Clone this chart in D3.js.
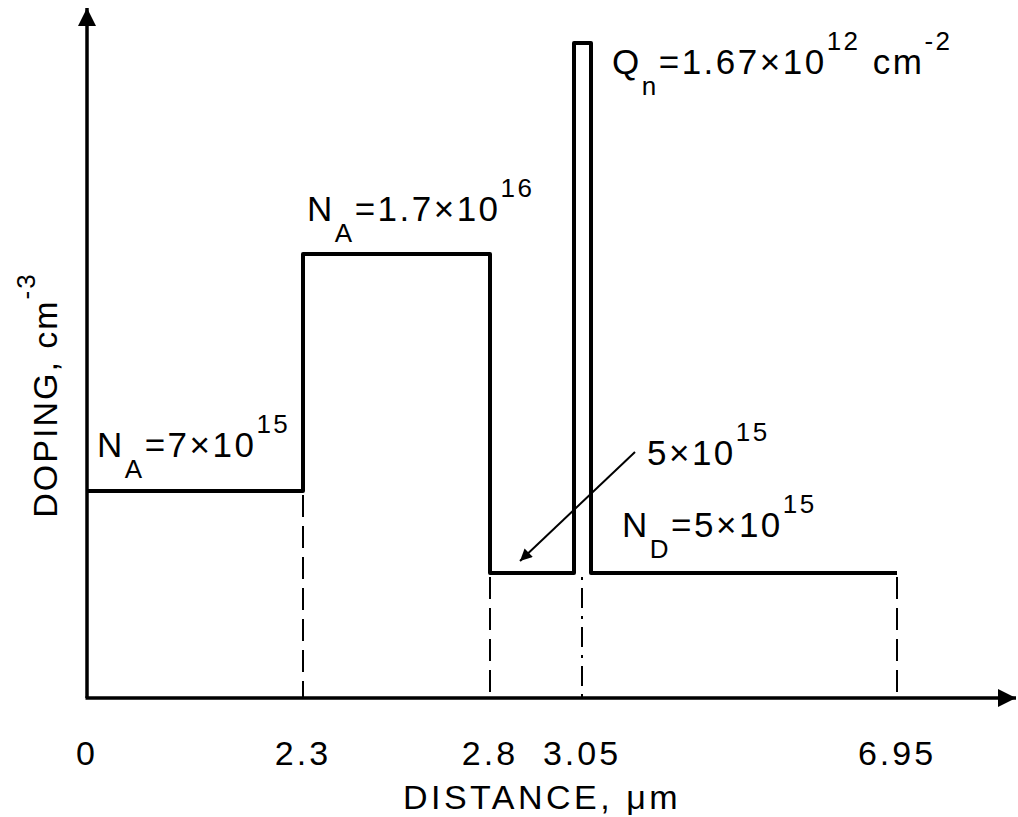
<!DOCTYPE html>
<html>
<head>
<meta charset="utf-8">
<script src="https://cdn.jsdelivr.net/npm/d3@7"></script>
<style>
  body { margin: 0; background: #fff; }
  text { font-family: "Liberation Sans", Arial, sans-serif; fill: #000; }
</style>
</head>
<body>
<script>
// distances (um) where the doping changes, shown on the x axis
var xTicks = [0, 2.3, 2.8, 3.05, 6.95];
var xTickLabels = ["0", "2.3", "2.8", "3.05", "6.95"];
// doping levels (cm^-3), one per region
var regionStart = [0, 2.3, 2.8, 3.05];
var regionEnd = [2.3, 2.8, 3.05, 6.95];
var regionDoping = [7e15, 1.7e16, 5e15, 5e15];
// delta-doped sheet at 3.05 um
var sheetAt = 3.05;
var sheetLabel = "1.67×10";
var sheetExp = "12";

var W = 1018, H = 817;
var svg = d3.select("body").append("svg")
	.attr("width", W)
	.attr("height", H);

// the drawing is not to scale, so both scales are piecewise
var x = d3.scaleLinear()
	.domain(xTicks)
	.range([87, 303, 490, 582, 897]);
var y = d3.scaleLinear()
	.domain([0, 5e15, 7e15, 1.7e16])
	.range([698, 573, 491, 254]);

var x0 = x(0), y0 = y(0);
var axisTop = 8, axisRight = 1016;
var spikeTop = 43, spikeL = 8, spikeR = 9;

// arrow marker
var defs = svg.append("defs");
defs.append("marker")
	.attr("id", "head")
	.attr("viewBox", "0 0 10 10")
	.attr("refX", 10).attr("refY", 5)
	.attr("markerWidth", 19).attr("markerHeight", 18)
	.attr("markerUnits", "userSpaceOnUse")
	.attr("orient", "auto")
	.append("path")
	.attr("d", "M0,0 L10,5 L0,10 Z")
	.attr("fill", "#000");
defs.append("marker")
	.attr("id", "pointer")
	.attr("viewBox", "0 0 10 10")
	.attr("refX", 10).attr("refY", 5)
	.attr("markerWidth", 20).attr("markerHeight", 12)
	.attr("markerUnits", "userSpaceOnUse")
	.attr("orient", "auto")
	.append("path")
	.attr("d", "M0,0 L10,5 L0,10 Z")
	.attr("fill", "#000");

// axes
svg.append("line")
	.attr("x1", x0).attr("y1", y0)
	.attr("x2", x0).attr("y2", axisTop)
	.attr("stroke", "#000").attr("stroke-width", 3.5)
	.attr("marker-end", "url(#head)");
svg.append("line")
	.attr("x1", x0 - 1.5).attr("y1", y0)
	.attr("x2", axisRight).attr("y2", y0)
	.attr("stroke", "#000").attr("stroke-width", 3.5)
	.attr("marker-end", "url(#head)");

// dashed guides from each step down to the axis
var guides = xTicks.slice(1).map(function(v) {
	var i = regionEnd.indexOf(v);
	var next = regionDoping[i + 1] === undefined ? regionDoping[i] : regionDoping[i + 1];
	return { x: v, top: d3.min([regionDoping[i], next]) };
});
svg.selectAll("line.guide")
	.data(guides)
	.enter()
	.append("line")
	.attr("class", "guide")
	.attr("x1", function(d) { return x(d.x); })
	.attr("x2", function(d) { return x(d.x); })
	.attr("y1", function(d) { return y(d.top) + 4; })
	.attr("y2", y0)
	.attr("stroke", "#000")
	.attr("stroke-width", 2)
	.attr("stroke-dasharray", function(d) { return d.x === sheetAt ? "3,8,20,8" : "22,9"; });

// doping profile as steps
var pts = [];
regionStart.forEach(function(s, i) {
	var lv = y(regionDoping[i]);
	if (s === sheetAt) {
		pts.push([x(s) - spikeL, lv]);
		pts.push([x(s) - spikeL, spikeTop]);
		pts.push([x(s) + spikeR, spikeTop]);
		pts.push([x(s) + spikeR, lv]);
	} else {
		pts.push([x(s), lv]);
	}
	pts.push([x(regionEnd[i]) - (regionEnd[i] === sheetAt ? spikeL : 0), lv]);
});
svg.append("path")
	.attr("d", d3.line()(pts))
	.attr("fill", "none")
	.attr("stroke", "#000")
	.attr("stroke-width", 4)
	.attr("stroke-linejoin", "round");

// tick labels
svg.selectAll("text.tick")
	.data(xTicks)
	.enter()
	.append("text")
	.attr("class", "tick")
	.attr("x", function(d) { return x(d); })
	.attr("y", 765)
	.attr("text-anchor", "middle")
	.attr("font-size", 34)
	.attr("letter-spacing", 3)
	.text(function(d, i) { return xTickLabels[i]; });

// axis titles
svg.append("text")
	.attr("x", 542).attr("y", 809)
	.attr("text-anchor", "middle")
	.attr("font-size", 34)
	.attr("letter-spacing", 3.5)
	.text("DISTANCE, μm");

var yt = svg.append("text")
	.attr("transform", "translate(57,395) rotate(-90)")
	.attr("text-anchor", "middle")
	.attr("font-size", 34)
	.attr("letter-spacing", 2);
yt.append("tspan").text("DOPING, cm");
yt.append("tspan").attr("dy", -22).attr("font-size", 26).text("-3");

// annotation helper: base, subscript, middle, superscript, tail
function label(px, py, parts) {
	var t = svg.append("text")
		.attr("x", px).attr("y", py)
		.attr("font-size", 35)
		.attr("letter-spacing", 2.5);
	var shift = 0;
	parts.forEach(function(p) {
		var dy = 0, fs = 35;
		if (p.sub) { dy = 21 - shift; shift = 21; fs = 26; }
		else if (p.sup) { dy = -24 - shift; shift = -24; fs = 26; }
		else { dy = -shift; shift = 0; }
		t.append("tspan")
			.attr("dy", dy)
			.attr("font-size", fs)
			.text(p.t);
	});
	return t;
}
function fmt(v) {
	var e = Math.floor(Math.log10(v));
	var m = +(v / Math.pow(10, e)).toFixed(2);
	return { m: m + "×10", e: String(e) };
}

var a = fmt(regionDoping[0]);
label(x(0) + 10, y(regionDoping[0]) - 34, [
	{ t: "N" }, { t: "A", sub: true }, { t: "=" + a.m }, { t: a.e, sup: true }]);
var b = fmt(regionDoping[1]);
label(x(2.3) + 4, y(regionDoping[1]) - 33, [
	{ t: "N" }, { t: "A", sub: true }, { t: "=" + b.m }, { t: b.e, sup: true }]);
label(x(sheetAt) + 30, 74, [
	{ t: "Q" }, { t: "n", sub: true }, { t: "=" + sheetLabel }, { t: sheetExp, sup: true },
	{ t: "  cm" }, { t: "-2", sup: true }]);
var c = fmt(regionDoping[2]);
label(647, 465, [{ t: c.m }, { t: c.e, sup: true }]);
var d = fmt(regionDoping[3]);
label(x(sheetAt) + 40, y(regionDoping[3]) - 36, [
	{ t: "N" }, { t: "D", sub: true }, { t: "=" + d.m }, { t: d.e, sup: true }]);

// pointer from the 5x10^15 label into the thin region
svg.append("line")
	.attr("x1", 635).attr("y1", 452)
	.attr("x2", 520).attr("y2", 561)
	.attr("stroke", "#000").attr("stroke-width", 2)
	.attr("marker-end", "url(#pointer)");
</script>
</body>
</html>
